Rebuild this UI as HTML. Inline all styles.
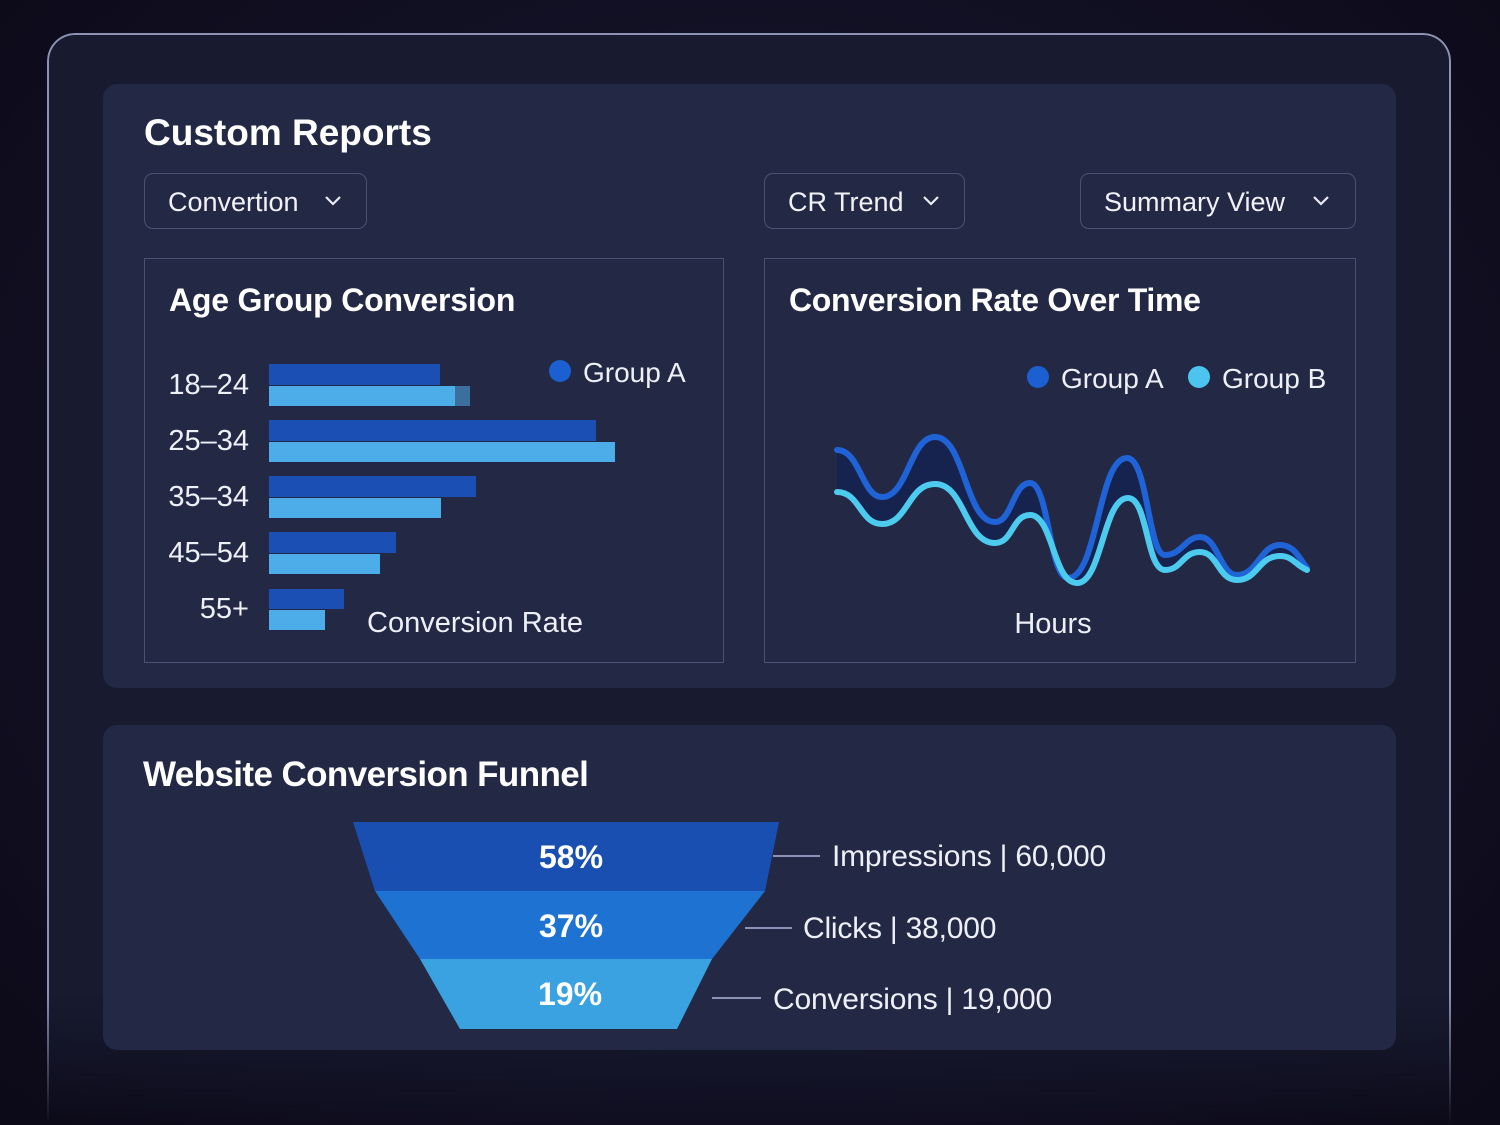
<!DOCTYPE html>
<html style="overflow:hidden;height:1125px"><head><style>
body{margin:0;width:1500px;height:1125px;background:radial-gradient(ellipse at 50% 45%,#1a1d36 0%,#100e20 70%,#0c0a18 100%);font-family:"Liberation Sans",sans-serif;color:#fff;position:relative;overflow:hidden}
.frame{position:absolute;left:47px;top:33px;width:1404px;height:1092px;border:2px solid #8d93b4;border-bottom:none;border-radius:28px 28px 0 0;background:#181b30;box-sizing:border-box;-webkit-mask-image:linear-gradient(#000 88%,transparent 100%);mask-image:linear-gradient(#000 88%,transparent 100%)}
.panel{position:absolute;background:#232945;border-radius:14px}
.t{position:absolute;white-space:nowrap}
.dd{position:absolute;border:1.5px solid #4a5274;border-radius:9px;height:56px;box-sizing:border-box;font-size:27px;line-height:56px;padding-left:23px;color:#f0f2f8}
.box{position:absolute;border:1.5px solid #4a5274;box-sizing:border-box}
</style></head><body>
<div class="frame"></div>
<div class="panel" style="left:103px;top:84px;width:1293px;height:604px"></div>
<div class="panel" style="left:103px;top:725px;width:1293px;height:325px"></div>
<div class="t" style="left:144px;top:112px;font-size:37px;font-weight:bold">Custom Reports</div>
<div class="dd" style="left:144px;top:173px;width:223px">Convertion</div>
<div class="dd" style="left:764px;top:173px;width:201px">CR Trend</div>
<div class="dd" style="left:1080px;top:173px;width:276px">Summary View</div>
<div class="box" style="left:144px;top:258px;width:580px;height:405px"></div>
<div class="box" style="left:764px;top:258px;width:592px;height:405px"></div>
<div class="t" style="left:169px;top:282px;font-size:32px;font-weight:bold;letter-spacing:-0.2px">Age Group Conversion</div>
<div class="t" style="left:789px;top:282px;font-size:32px;font-weight:bold;letter-spacing:-0.3px">Conversion Rate Over Time</div>
<div class="t" style="left:143px;top:755px;font-size:35px;font-weight:bold;letter-spacing:-0.6px">Website Conversion Funnel</div>
<svg width="1500" height="1125" style="position:absolute;left:0;top:0" font-family="Liberation Sans, sans-serif">
<g fill="none" stroke="#e8ebf5" stroke-width="2.2"><path d="M326 197l7 7 7-7"/><path d="M924 197l7 7 7-7"/><path d="M1314 197l7 7 7-7"/></g>
<g fill="#1b4fb4"><rect x="269" y="364" width="171" height="21"/><rect x="269" y="420" width="327" height="21"/><rect x="269" y="476" width="207" height="21"/><rect x="269" y="532" width="127" height="21"/><rect x="269" y="589" width="75" height="20"/></g>
<g fill="#4cade8"><rect x="269" y="386" width="186" height="20"/><rect x="455" y="386" width="15" height="20" fill="#3a6f9e"/><rect x="269" y="442" width="346" height="20"/><rect x="269" y="498" width="172" height="20"/><rect x="269" y="554" width="111" height="20"/><rect x="269" y="610" width="56" height="20"/></g>
<g fill="#eef0f8" font-size="29" text-anchor="end"><text x="249" y="394">18–24</text><text x="249" y="450">25–34</text><text x="249" y="506">35–34</text><text x="249" y="562">45–54</text><text x="249" y="618">55+</text></g>
<circle cx="560" cy="371" r="11" fill="#1b5fd0"/><text x="583" y="382" font-size="28" fill="#eef0f8">Group A</text>
<text x="367" y="632" font-size="29" fill="#eef0f8">Conversion Rate</text>
<circle cx="1038" cy="377" r="11" fill="#1b5fd0"/><text x="1061" y="388" font-size="28" fill="#eef0f8">Group A</text>
<circle cx="1199" cy="377" r="11" fill="#4cc4ef"/><text x="1222" y="388" font-size="28" fill="#eef0f8">Group B</text>
<text x="1053" y="633" font-size="29" fill="#eef0f8" text-anchor="middle">Hours</text>
<path d="M837 450C860 450 862 497 882 497C908 497 910 437 935 437C965 437 965 522 995 522C1012 522 1013 483 1030 483C1049 483 1049 578 1068 578C1098 578 1098 458 1127 458C1148 458 1148 555 1165 555C1182 555 1185 537 1200 537C1218 537 1220 575 1237 575C1258 575 1260 545 1280 545C1295 545 1300 560 1307 568 L1307 570C1295 565 1293 556 1280 556C1258 556 1258 580 1237 580C1218 580 1218 552 1200 552C1182 552 1182 570 1165 570C1146 570 1148 498 1128 498C1103 498 1102 583 1077 583C1053 583 1053 515 1030 515C1012 515 1013 543 995 543C965 543 965 484 935 484C908 484 908 524 882 524C860 524 860 492 837 492Z" fill="#16234f"/>
<path d="M837 450C860 450 862 497 882 497C908 497 910 437 935 437C965 437 965 522 995 522C1012 522 1013 483 1030 483C1049 483 1049 578 1068 578C1098 578 1098 458 1127 458C1148 458 1148 555 1165 555C1182 555 1185 537 1200 537C1218 537 1220 575 1237 575C1258 575 1260 545 1280 545C1295 545 1300 560 1307 568" fill="none" stroke="#1f63d6" stroke-width="6" stroke-linecap="round"/>
<path d="M837 492C860 492 860 524 882 524C908 524 908 484 935 484C965 484 965 543 995 543C1013 543 1012 515 1030 515C1053 515 1053 583 1077 583C1102 583 1103 498 1128 498C1148 498 1146 570 1165 570C1182 570 1182 552 1200 552C1218 552 1218 580 1237 580C1258 580 1258 556 1280 556C1293 556 1295 565 1307 570" fill="none" stroke="#4dcbef" stroke-width="6" stroke-linecap="round"/>
<polygon points="353,822 779,822 765,891 375,891" fill="#1a4fb2"/>
<polygon points="375,891 765,891 712,959 420,959" fill="#1e73d2"/>
<polygon points="420,959 712,959 677,1029 460,1029" fill="#3ba2e2"/>
<g fill="#fff" font-size="32" font-weight="bold" text-anchor="middle"><text x="571" y="868">58%</text><text x="571" y="937">37%</text><text x="570" y="1005">19%</text></g>
<g stroke="#8a93b5" stroke-width="2"><line x1="773" y1="856" x2="820" y2="856"/><line x1="745" y1="928" x2="792" y2="928"/><line x1="712" y1="998" x2="761" y2="998"/></g>
<g fill="#eef0f8" font-size="30" letter-spacing="-0.2"><text x="832" y="866">Impressions | 60,000</text><text x="803" y="938">Clicks | 38,000</text><text x="773" y="1009">Conversions | 19,000</text></g>
</svg>
</body></html>
